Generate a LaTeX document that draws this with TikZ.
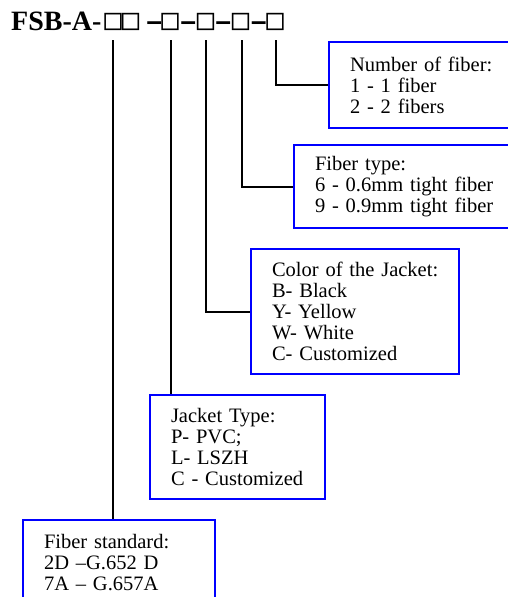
\documentclass[tikz,border=0pt]{standalone}
\usepackage{fontspec}
\setmainfont{Liberation Serif}
\newfontfamily\symfont{DejaVu Sans Mono}
\definecolor{boxblue}{RGB}{0,0,255}
\newcommand\tsq[1]{\rlap{\kern#1pt\makebox[0pt]{\raisebox{1pt}{\symfont\mdseries\fontsize{29}{30}\selectfont □}}}}
\newcommand\tdash[1]{\rlap{\kern#1pt\makebox[0pt]{\raisebox{1pt}{\symfont\bfseries\fontsize{23}{24}\selectfont –}}}}
\tikzset{
  box/.style={draw=boxblue, line width=2pt, anchor=north west, align=left,
    inner xsep=21pt, inner ysep=0pt, font=\fontsize{20.5}{21}\selectfont},
  conn/.style={draw=black, line width=2pt},
  titletext/.style={anchor=base west, inner sep=0pt, font=\fontsize{28}{30}\selectfont\bfseries}
}
\begin{document}
\begin{tikzpicture}[x=1pt,y=-1pt]
\useasboundingbox (0,0) rectangle (508,597);
\clip (0,0) rectangle (508,597);

% title
\node[titletext] (title) at (11,30) {\makebox[272pt][l]{\rlap{FSB-A-}\tsq{102}\tsq{119.5}\tdash{143}\tsq{159}\tdash{177}\tsq{194.5}\tdash{212}\tsq{229.5}\tdash{247.5}\tsq{264}}};
\coordinate (c1) at (113,40);
\coordinate (c2) at (171,40);
\coordinate (c3) at (205.5,40);
\coordinate (c4) at (241.5,40);
\coordinate (c5) at (275.5,40);

% boxes
\node[box, text width=150pt, minimum height=86pt] (b1) at (328,41)
  {Number~of~fiber:\\1~-~1~fiber\\2~-~2~fibers};
\node[box, text width=185pt, minimum height=83pt] (b2) at (293,144)
  {Fiber~type:\\6~-~0.6mm~tight~fiber\\9~-~0.9mm~tight~fiber};
\node[box, text width=166pt, minimum height=125pt] (b3) at (250,248)
  {Color~of~the~Jacket:\\B-~Black\\Y-~Yellow\\W-~White\\C-~Customized};
\node[box, text width=133pt, minimum height=104pt] (b4) at (149,394)
  {Jacket~Type:\\P-~PVC;\\L-~LSZH\\C~-~Customized};
\node[box, text width=150pt, minimum height=86pt] (b5) at (22,519)
  {Fiber~standard:\\2D~–G.652~D\\7A~–~G.657A};

% connectors
\draw[conn] (c1) -- (c1 |- b5.north);
\draw[conn] (c2) -- (c2 |- b4.north);
\draw[conn] (c3) |- (b3.west);
\draw[conn] (c4) |- (b2.west);
\draw[conn] (c5) |- (b1.west);
\end{tikzpicture}
\end{document}
